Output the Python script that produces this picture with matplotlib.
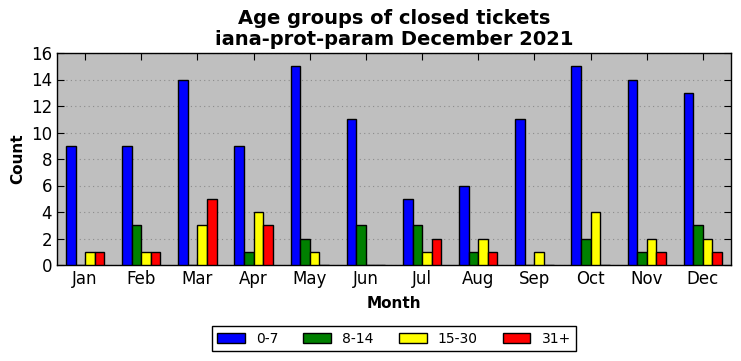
import numpy as np
import matplotlib.pyplot as plt

months = ['Jan', 'Feb', 'Mar', 'Apr', 'May', 'Jun', 'Jul', 'Aug', 'Sep', 'Oct', 'Nov', 'Dec']
age_0_7 = [9, 9, 14, 9, 15, 11, 5, 6, 11, 15, 14, 13]
age_8_14 = [0, 3, 0, 1, 2, 3, 3, 1, 0, 2, 1, 3]
age_15_30 = [1, 1, 3, 4, 1, 0, 1, 2, 1, 4, 2, 2]
age_31 = [1, 1, 5, 3, 0, 0, 2, 1, 0, 0, 1, 1]

series = [age_0_7, age_8_14, age_15_30, age_31]
labels = ['0-7', '8-14', '15-30', '31+']
colors = ['blue', 'green', 'yellow', 'red']

fig = plt.figure(figsize=(7.41, 3.61), dpi=100)
ax = fig.add_axes([57 / 741, 1 - 265 / 361, 674 / 741, 212 / 361])
ax.set_facecolor('#bfbfbf')

x = np.arange(len(months))
w = 0.17
for i, (vals, lab, col) in enumerate(zip(series, labels, colors)):
    ax.bar(x + (i - 2) * w, vals, width=w, align='edge', color=col,
           edgecolor='black', linewidth=1, label=lab, zorder=3)

ax.set_xlim(-0.5, 11.5)
ax.set_ylim(0, 16)
ax.set_xticks(x)
ax.set_xticklabels(months)
ax.set_yticks(range(0, 17, 2))
ax.tick_params(direction='in', top=True, right=True, labelsize=12, length=5)
ax.yaxis.grid(True, linestyle=(0, (1, 3)), color='#8c8c8c', linewidth=0.8, zorder=0)
ax.set_axisbelow(True)
for s in ax.spines.values():
    s.set_linewidth(1)

ax.set_xlabel('Month', fontsize=11, fontweight='bold', labelpad=6)
ax.set_ylabel('Count', fontsize=11, fontweight='bold')
ax.set_title('Age groups of closed tickets\niana-prot-param December 2021',
             fontsize=14, fontweight='bold', linespacing=1.1)

ax.legend(loc='upper center', bbox_to_anchor=(0.5, -0.256), ncol=4,
          fancybox=False, framealpha=1, edgecolor='black', fontsize=10,
          handlelength=2.0, handleheight=0.7, columnspacing=1.8,
          borderpad=0.4)

fig.savefig('out.png', dpi=100)
